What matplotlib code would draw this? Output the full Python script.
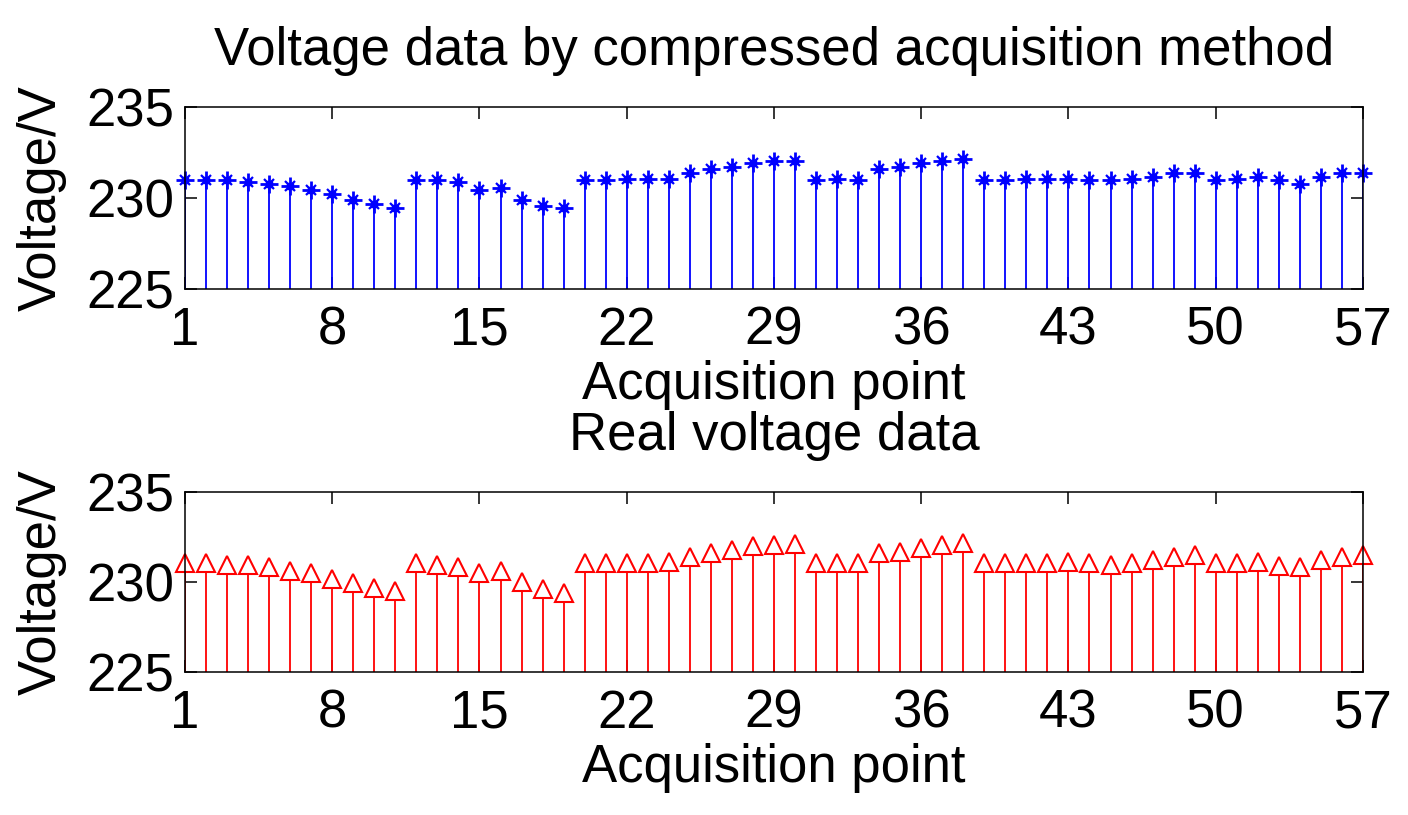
import numpy as np
import matplotlib
matplotlib.use("Agg")
import matplotlib.pyplot as plt

plt.rcParams['font.family'] = ['Liberation Sans', 'DejaVu Sans']
plt.rcParams['font.size'] = 38

# acquisition points 1..57
points = np.arange(1, 58)

# voltage from the compressed acquisition method (top panel)
compressed_v = [230.97, 230.97, 230.97, 230.87, 230.77, 230.66, 230.44, 230.24, 229.91, 229.69,
                229.47, 230.97, 230.97, 230.87, 230.44, 230.55, 229.91, 229.58, 229.47, 230.97,
                230.97, 231.07, 231.07, 231.07, 231.40, 231.60, 231.71, 231.93, 232.04, 232.04,
                230.97, 231.07, 230.97, 231.60, 231.71, 231.93, 232.04, 232.13, 230.97, 230.97,
                231.07, 231.07, 231.07, 230.97, 230.97, 231.07, 231.18, 231.40, 231.40, 230.97,
                231.07, 231.18, 230.97, 230.77, 231.18, 231.40, 231.40]

# real voltage data (bottom panel)
real_v = [231.04, 231.04, 230.94, 230.94, 230.81, 230.59, 230.50, 230.19, 229.96, 229.65,
          229.52, 231.04, 230.94, 230.81, 230.50, 230.63, 230.00, 229.61, 229.41, 231.04,
          231.04, 231.04, 231.04, 231.13, 231.37, 231.59, 231.80, 232.02, 232.07, 232.11,
          231.04, 231.04, 231.04, 231.59, 231.69, 231.91, 232.04, 232.15, 231.04, 231.04,
          231.04, 231.04, 231.13, 231.04, 230.94, 231.04, 231.24, 231.37, 231.48, 231.04,
          231.04, 231.13, 230.90, 230.81, 231.24, 231.37, 231.48]

x_ticks = [1, 8, 15, 22, 29, 36, 43, 50, 57]
y_ticks = [225, 230, 235]

fig = plt.figure(figsize=(14.08, 8.15), dpi=100)
ax1 = fig.add_axes([0.1314, 0.6454, 0.8366, 0.2233])
ax2 = fig.add_axes([0.1314, 0.1755, 0.8366, 0.2209])


def draw_panel(ax, y, color, marker, title):
    ml, sl, bl = ax.stem(points, y, bottom=225, basefmt=' ')
    sl.set_color(color)
    sl.set_linewidth(1.3)
    ml.set_marker(marker)
    ml.set_color(color)
    ml.set_markersize(13 if marker == '^' else 12.5)
    ml.set_markeredgewidth(1.5 if marker == '^' else 2.0)
    ml.set_markerfacecolor('white' if marker == '^' else color)
    ml.set_clip_on(False)
    if marker == '+':
        # MATLAB style asterisk: add the short diagonals and a centre dot
        ax.plot(points, y, ls='none', marker='x', ms=7, mew=1.6, color=color, clip_on=False)
        ax.plot(points, y, ls='none', marker='s', ms=4, color=color, clip_on=False)
    ax.set_xlim(1, 57)
    ax.set_ylim(225, 235)
    ax.set_xticks(x_ticks)
    ax.set_yticks(y_ticks)
    ax.tick_params(direction='in', length=8.6, width=1.1, top=True, right=True)
    ax.tick_params(axis='x', pad=12)
    ax.tick_params(axis='y', pad=8)
    for s in ax.spines.values():
        s.set_linewidth(1.1)
    ax.set_title(title, pad=30, fontsize=38)
    ax.set_xlabel('Acquisition point', labelpad=3)
    ax.set_ylabel('Voltage/V', labelpad=14)


draw_panel(ax1, compressed_v, '#0000FF', '+', 'Voltage data by compressed acquisition method')
draw_panel(ax2, real_v, '#FF0000', '^', 'Real voltage data')

fig.savefig('out.png', dpi=100)
